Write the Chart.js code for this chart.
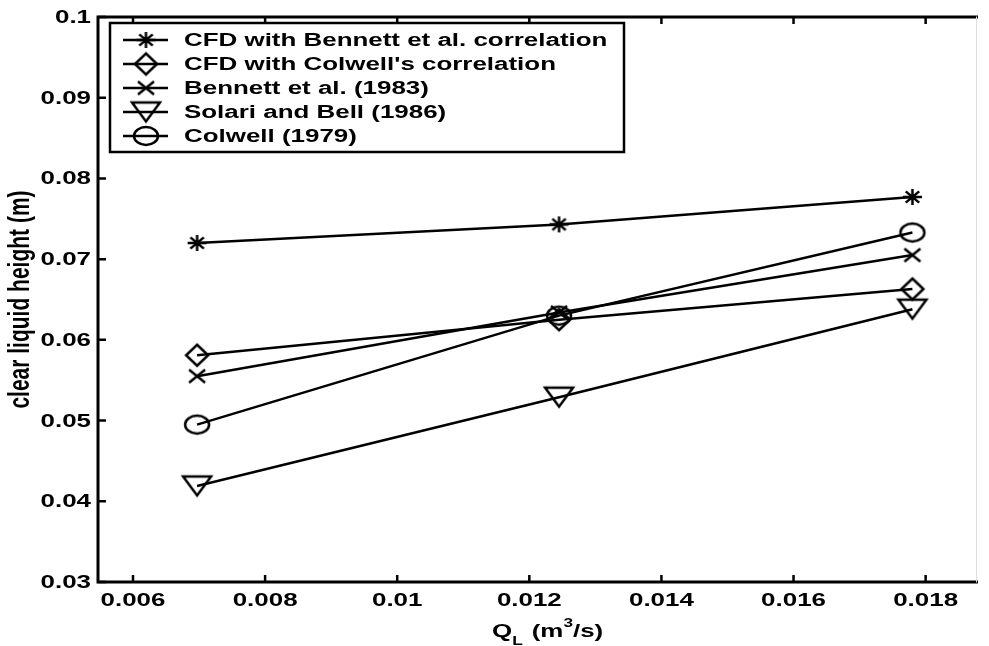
<!DOCTYPE html>
<html>
<head>
<meta charset="utf-8">
<script src="https://cdn.jsdelivr.net/npm/chart.js"></script>
<style>
  html, body { margin: 0; padding: 0; background: #fff; }
  #wrap { width: 989px; height: 646px; position: relative; }
</style>
</head>
<body>
<div id="wrap"><canvas id="c"></canvas></div>
<script>
// liquid flow rate Q_L (m^3/s)
const flowRates = [0.00697, 0.01245, 0.0178];

const cfdBennett = [0.0720, 0.0743, 0.0777];
const cfdColwell = [0.0581, 0.0625, 0.0663];
const bennett1983 = [0.0555, 0.0634, 0.0705];
const solariBell1986 = [0.0419, 0.0529, 0.0638];
const colwell1979 = [0.0495, 0.0630, 0.0733];

const seriesNames = [
  "CFD with Bennett et al. correlation",
  "CFD with Colwell's correlation",
  "Bennett et al. (1983)",
  "Solari and Bell (1986)",
  "Colwell (1979)"
];

const xTicks = [0.006, 0.008, 0.01, 0.012, 0.014, 0.016, 0.018];
const xTickLabels = ["0.006", "0.008", "0.01", "0.012", "0.014", "0.016", "0.018"];
const yTicks = [0.03, 0.04, 0.05, 0.06, 0.07, 0.08, 0.09, 0.1];
const yTickLabels = ["0.03", "0.04", "0.05", "0.06", "0.07", "0.08", "0.09", "0.1"];

const FONT = "'Liberation Sans', Arial, Helvetica, sans-serif";
const SX = 1.44; // the original picture is stretched sideways

// hollow matlab-like markers, drawn on small canvases (w x h)
function makeMarker(kind, w, h) {
  const c = document.createElement('canvas');
  c.width = Math.ceil(w + 6);
  c.height = Math.ceil(h + 6);
  const g = c.getContext('2d');
  const cx = c.width / 2, cy = c.height / 2, rx = w / 2, ry = h / 2;
  g.strokeStyle = '#000';
  g.lineWidth = 2.5;
  g.lineJoin = 'miter';
  g.beginPath();
  if (kind === 'star') {
    const k = 0.7071;
    g.moveTo(cx - rx, cy); g.lineTo(cx + rx, cy);
    g.moveTo(cx, cy - ry); g.lineTo(cx, cy + ry);
    g.moveTo(cx - rx * k, cy - ry * k); g.lineTo(cx + rx * k, cy + ry * k);
    g.moveTo(cx - rx * k, cy + ry * k); g.lineTo(cx + rx * k, cy - ry * k);
  } else if (kind === 'diamond') {
    g.moveTo(cx, cy - ry); g.lineTo(cx + rx, cy);
    g.lineTo(cx, cy + ry); g.lineTo(cx - rx, cy); g.closePath();
  } else if (kind === 'x') {
    g.moveTo(cx - rx, cy - ry); g.lineTo(cx + rx, cy + ry);
    g.moveTo(cx - rx, cy + ry); g.lineTo(cx + rx, cy - ry);
  } else if (kind === 'tri') {
    g.moveTo(cx - rx, cy - ry); g.lineTo(cx + rx, cy - ry);
    g.lineTo(cx, cy + ry); g.closePath();
  } else {
    g.ellipse(cx, cy, rx, ry, 0, 0, Math.PI * 2);
  }
  g.stroke();
  return c;
}

const markerImgs = [
  makeMarker('star', 19, 16),
  makeMarker('diamond', 22, 21),
  makeMarker('x', 16, 13),
  makeMarker('tri', 28, 19),
  makeMarker('circle', 24, 18)
];

function pts(ys) {
  return ys.map((y, i) => ({ x: flowRates[i], y: y }));
}

const allSeries = [cfdBennett, cfdColwell, bennett1983, solariBell1986, colwell1979];

const datasets = allSeries.map((ys, i) => ({
  label: seriesNames[i],
  data: pts(ys),
  showLine: true,
  borderColor: '#000',
  borderWidth: 2.5,
  pointStyle: markerImgs[i],
  pointRadius: 10,
  pointHoverRadius: 10
}));

// text squeezed/stretched sideways like the source picture
function wideText(ctx, text, x, y, align, sx) {
  const w = ctx.measureText(text).width * sx;
  let left = x;
  if (align === 'right') left = x - w;
  else if (align === 'center') left = x - w / 2;
  ctx.save();
  ctx.translate(left, y);
  ctx.scale(sx, 1);
  ctx.textAlign = 'left';
  ctx.fillText(text, 0, 0);
  ctx.restore();
  return w;
}

// frame, inward ticks, tick labels, legend box and axis titles
const framePlugin = {
  id: 'frame',
  afterDraw(chart) {
    const ctx = chart.ctx;
    const a = chart.chartArea;
    const xs = chart.scales.x, ys = chart.scales.y;
    ctx.save();
    ctx.strokeStyle = '#000';
    ctx.fillStyle = '#000';
    ctx.lineCap = 'square';

    // axes box
    ctx.lineWidth = 3;
    ctx.beginPath();
    ctx.moveTo(a.left, a.top); ctx.lineTo(a.right, a.top);
    ctx.moveTo(a.left, a.top); ctx.lineTo(a.left, a.bottom);
    ctx.lineTo(a.right, a.bottom);
    ctx.stroke();
    ctx.strokeStyle = '#ddd';
    ctx.lineWidth = 1;
    ctx.beginPath();
    ctx.moveTo(a.right, a.top); ctx.lineTo(a.right, a.bottom);
    ctx.stroke();

    // inward ticks
    ctx.strokeStyle = '#000';
    ctx.lineWidth = 2.5;
    ctx.lineCap = 'butt';
    ctx.beginPath();
    xs.ticks.forEach(t => {
      const px = xs.getPixelForValue(t.value);
      ctx.moveTo(px, a.bottom); ctx.lineTo(px, a.bottom - 7);
      ctx.moveTo(px, a.top); ctx.lineTo(px, a.top + 7);
    });
    ys.ticks.forEach(t => {
      const py = ys.getPixelForValue(t.value);
      ctx.moveTo(a.left, py); ctx.lineTo(a.left + 8, py);
    });
    ctx.stroke();

    // tick labels
    ctx.font = "bold 18px " + FONT;
    ctx.textBaseline = 'middle';
    xs.ticks.forEach((t, i) => {
      wideText(ctx, xTickLabels[i], xs.getPixelForValue(t.value), 601, 'center', SX);
    });
    ys.ticks.forEach((t, i) => {
      wideText(ctx, yTickLabels[i], a.left - 7, ys.getPixelForValue(t.value) + 1, 'right', SX);
    });

    // legend
    const lx = 110, ly = 23, lw = 514, lh = 129;
    ctx.fillStyle = '#fff';
    ctx.fillRect(lx, ly, lw, lh);
    ctx.lineWidth = 2.5;
    ctx.strokeRect(lx, ly, lw, lh);
    ctx.fillStyle = '#000';
    ctx.font = "bold 18px " + FONT;
    chart.data.datasets.forEach((ds, i) => {
      const y = 40 + i * 24;
      ctx.lineWidth = 2.5;
      ctx.beginPath();
      ctx.moveTo(123, y); ctx.lineTo(168, y);
      ctx.stroke();
      const img = ds.pointStyle;
      ctx.drawImage(img, 146 - img.width / 2, y - img.height / 2);
      wideText(ctx, ds.label, 184, y + 1, 'left', SX);
    });

    // y title (stretched across its thickness)
    ctx.save();
    ctx.translate(21, (a.top + a.bottom) / 2);
    ctx.rotate(-Math.PI / 2);
    ctx.scale(1, SX);
    ctx.textAlign = 'center';
    ctx.textBaseline = 'middle';
    ctx.font = "bold 21px " + FONT;
    ctx.fillText("clear liquid height (m)", 0, 0);
    ctx.restore();

    // x title: Q_L (m^3/s)
    ctx.textBaseline = 'alphabetic';
    const big = "bold 18px " + FONT, small = "bold 12px " + FONT;
    let x0 = 492;
    ctx.font = big; x0 += wideText(ctx, "Q", x0, 637, 'left', SX);
    ctx.font = small; x0 += wideText(ctx, "L", x0, 645, 'left', SX);
    x0 += 9;
    ctx.font = big; x0 += wideText(ctx, "(m", x0, 637, 'left', SX);
    ctx.font = small; x0 += wideText(ctx, "3", x0, 627, 'left', SX);
    ctx.font = big; wideText(ctx, "/s)", x0, 637, 'left', SX);
    ctx.restore();
  }
};

new Chart(document.getElementById('c'), {
  type: 'scatter',
  data: { datasets: datasets },
  options: {
    responsive: true,
    maintainAspectRatio: false,
    animation: false,
    layout: { padding: { top: 17, right: 6, left: 0, bottom: 0 } },
    plugins: { legend: { display: false }, tooltip: { enabled: false } },
    scales: {
      x: {
        type: 'linear',
        min: 0.00547,
        max: 0.01877,
        afterBuildTicks: s => { s.ticks = xTicks.map(v => ({ value: v })); },
        afterFit: s => { s.height = 64; },
        grid: { display: false, drawTicks: false },
        border: { display: false },
        ticks: { display: false }
      },
      y: {
        type: 'linear',
        min: 0.03,
        max: 0.1,
        afterBuildTicks: s => { s.ticks = yTicks.map(v => ({ value: v })); },
        afterFit: s => { s.width = 98; },
        grid: { display: false, drawTicks: false },
        border: { display: false },
        ticks: { display: false }
      }
    }
  },
  plugins: [framePlugin]
});
</script>
</body>
</html>
